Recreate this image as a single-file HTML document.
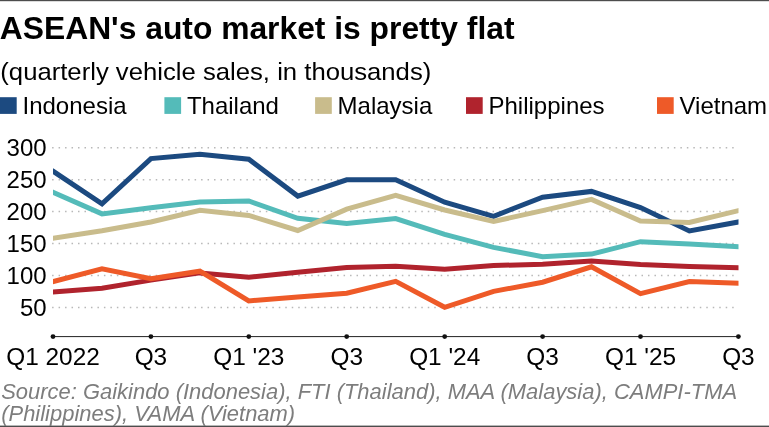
<!DOCTYPE html>
<html><head><meta charset="utf-8"><title>ASEAN's auto market is pretty flat</title>
<style>
html,body{margin:0;padding:0;background:#fff;}
body{width:769px;height:427px;overflow:hidden;font-family:"Liberation Sans",sans-serif;}
svg{display:block;will-change:transform;}
text{font-family:"Liberation Sans",sans-serif;}
.ax{font-size:24px;fill:#000;}
.axx{font-size:24.4px;fill:#000;}
.title{font-size:31.8px;font-weight:bold;fill:#000;}
.sub{font-size:24.4px;fill:#000;}
.src{font-size:21.3px;font-style:italic;fill:#7d7d7d;}
</style></head><body>
<svg width="769" height="427" viewBox="0 0 769 427">
<defs><clipPath id="plot"><rect x="53" y="120" width="685.5" height="215"/></clipPath></defs>
<rect x="0" y="0" width="769" height="427" fill="#fff"/>
<rect x="0" y="0" width="769" height="1.2" fill="#4d4d4d"/>
<rect x="0" y="425.6" width="769" height="1.4" fill="#4d4d4d"/>
<text x="-0.2" y="38.8" class="title">ASEAN's auto market is pretty flat</text>
<text x="0.3" y="79.8" class="sub" textLength="431" lengthAdjust="spacingAndGlyphs">(quarterly vehicle sales, in thousands)</text>
<rect x="0.0" y="97.2" width="16.7" height="16.7" fill="#1c4a80"/>
<text x="22.5" y="114.4" class="ax">Indonesia</text>
<rect x="164.4" y="97.2" width="16.7" height="16.7" fill="#54bbb9"/>
<text x="186.9" y="114.4" class="ax">Thailand</text>
<rect x="315.1" y="97.2" width="16.7" height="16.7" fill="#c9bc8c"/>
<text x="337.6" y="114.4" class="ax">Malaysia</text>
<rect x="466.0" y="97.2" width="16.7" height="16.7" fill="#b0232d"/>
<text x="488.5" y="114.4" class="ax">Philippines</text>
<rect x="657.0" y="97.2" width="16.7" height="16.7" fill="#ee5a28"/>
<text x="679.5" y="114.4" class="ax">Vietnam</text>

<line x1="52.1" y1="147.7" x2="734.5" y2="147.7" stroke="#b8b8b8" stroke-width="1.5" stroke-dasharray="1.5 4.977"/>
<line x1="52.1" y1="179.7" x2="734.5" y2="179.7" stroke="#b8b8b8" stroke-width="1.5" stroke-dasharray="1.5 4.977"/>
<line x1="52.1" y1="211.6" x2="734.5" y2="211.6" stroke="#b8b8b8" stroke-width="1.5" stroke-dasharray="1.5 4.977"/>
<line x1="52.1" y1="243.6" x2="734.5" y2="243.6" stroke="#b8b8b8" stroke-width="1.5" stroke-dasharray="1.5 4.977"/>
<line x1="52.1" y1="275.6" x2="734.5" y2="275.6" stroke="#b8b8b8" stroke-width="1.5" stroke-dasharray="1.5 4.977"/>
<line x1="52.1" y1="307.5" x2="734.5" y2="307.5" stroke="#b8b8b8" stroke-width="1.5" stroke-dasharray="1.5 4.977"/>

<text x="46.6" y="156.0" text-anchor="end" class="ax">300</text>
<text x="46.6" y="188.0" text-anchor="end" class="ax">250</text>
<text x="46.6" y="219.9" text-anchor="end" class="ax">200</text>
<text x="46.6" y="251.9" text-anchor="end" class="ax">150</text>
<text x="46.6" y="283.9" text-anchor="end" class="ax">100</text>
<text x="46.6" y="315.8" text-anchor="end" class="ax">50</text>

<line x1="53.0" y1="336.6" x2="738.4" y2="336.6" stroke="#222" stroke-width="1"/>
<circle cx="53.0" cy="336.6" r="2.4" fill="#111"/>
<circle cx="150.9" cy="336.6" r="2.4" fill="#111"/>
<circle cx="248.8" cy="336.6" r="2.4" fill="#111"/>
<circle cx="346.7" cy="336.6" r="2.4" fill="#111"/>
<circle cx="444.7" cy="336.6" r="2.4" fill="#111"/>
<circle cx="542.6" cy="336.6" r="2.4" fill="#111"/>
<circle cx="640.5" cy="336.6" r="2.4" fill="#111"/>
<circle cx="738.4" cy="336.6" r="2.4" fill="#111"/>

<text x="53.0" y="365.4" text-anchor="middle" class="axx">Q1 2022</text>
<text x="150.9" y="365.4" text-anchor="middle" class="axx">Q3</text>
<text x="248.8" y="365.4" text-anchor="middle" class="axx">Q1 '23</text>
<text x="346.7" y="365.4" text-anchor="middle" class="axx">Q3</text>
<text x="444.7" y="365.4" text-anchor="middle" class="axx">Q1 '24</text>
<text x="542.6" y="365.4" text-anchor="middle" class="axx">Q3</text>
<text x="640.5" y="365.4" text-anchor="middle" class="axx">Q1 '25</text>
<text x="738.4" y="365.4" text-anchor="middle" class="axx">Q3</text>

<polyline points="53.0,171.2 102.0,203.9 150.9,158.6 199.9,154.3 248.8,159.2 297.8,196.1 346.7,179.8 395.7,179.8 444.7,202.2 493.6,216.3 542.6,197.2 591.5,191.4 640.5,207.5 689.4,230.9 738.4,222.0" fill="none" stroke="#1c4a80" stroke-width="5.0" stroke-linejoin="miter" stroke-miterlimit="10" stroke-linecap="square" clip-path="url(#plot)"/>
<polyline points="53.0,192.2 102.0,213.9 150.9,207.7 199.9,201.9 248.8,201.0 297.8,218.3 346.7,223.6 395.7,218.5 444.7,234.3 493.6,247.4 542.6,256.7 591.5,254.1 640.5,241.7 689.4,244.1 738.4,246.8" fill="none" stroke="#54bbb9" stroke-width="5.0" stroke-linejoin="miter" stroke-miterlimit="10" stroke-linecap="square" clip-path="url(#plot)"/>
<polyline points="53.0,238.3 102.0,230.8 150.9,222.0 199.9,210.2 248.8,215.4 297.8,230.5 346.7,209.1 395.7,195.4 444.7,210.0 493.6,221.5 542.6,210.6 591.5,199.4 640.5,221.1 689.4,222.5 738.4,210.6" fill="none" stroke="#c9bc8c" stroke-width="5.0" stroke-linejoin="miter" stroke-miterlimit="10" stroke-linecap="square" clip-path="url(#plot)"/>
<polyline points="53.0,291.9 102.0,288.2 150.9,280.1 199.9,272.9 248.8,277.2 297.8,272.3 346.7,267.6 395.7,266.3 444.7,269.2 493.6,265.5 542.6,264.3 591.5,261.1 640.5,264.5 689.4,266.5 738.4,267.8" fill="none" stroke="#b0232d" stroke-width="5.0" stroke-linejoin="miter" stroke-miterlimit="10" stroke-linecap="square" clip-path="url(#plot)"/>
<polyline points="53.0,281.7 102.0,268.8 150.9,278.7 199.9,271.2 248.8,300.9 297.8,297.1 346.7,293.2 395.7,281.3 444.7,307.3 493.6,291.4 542.6,282.2 591.5,266.8 640.5,293.7 689.4,281.6 738.4,283.3" fill="none" stroke="#ee5a28" stroke-width="5.0" stroke-linejoin="miter" stroke-miterlimit="10" stroke-linecap="square" clip-path="url(#plot)"/>
<text x="1.2" y="398.8" class="src" textLength="735.9" lengthAdjust="spacingAndGlyphs">Source: Gaikindo (Indonesia), FTI (Thailand), MAA (Malaysia), CAMPI-TMA</text>
<text x="1.2" y="421.2" class="src" textLength="294" lengthAdjust="spacingAndGlyphs">(Philippines), VAMA (Vietnam)</text>
</svg>
</body></html>
